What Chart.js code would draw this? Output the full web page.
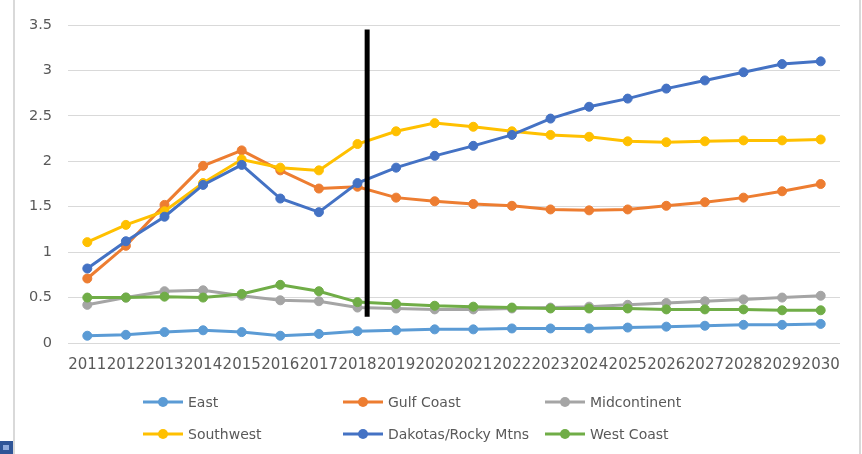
<!DOCTYPE html>
<html>
<head>
<meta charset="utf-8">
<script src="https://cdn.jsdelivr.net/npm/chart.js@4.4.0/dist/chart.umd.min.js"></script>
<style>
  html, body { margin: 0; padding: 0; background: #fff; }
  #wrap { width: 862px; height: 454px; }
</style>
</head>
<body>
<div id="wrap"><canvas id="chart" width="862" height="454"></canvas></div>
<script>
// categories
const years = ["2011","2012","2013","2014","2015","2016","2017","2018","2019","2020",
               "2021","2022","2023","2024","2025","2026","2027","2028","2029","2030"];

// series values
const east         = [0.08,0.09,0.12,0.14,0.12,0.08,0.10,0.13,0.14,0.15,0.15,0.16,0.16,0.16,0.17,0.18,0.19,0.20,0.20,0.21];
const gulfCoast    = [0.71,1.07,1.52,1.95,2.12,1.90,1.70,1.72,1.60,1.56,1.53,1.51,1.47,1.46,1.47,1.51,1.55,1.60,1.67,1.75];
const midcontinent = [0.42,0.50,0.57,0.58,0.52,0.47,0.46,0.39,0.38,0.37,0.37,0.38,0.39,0.40,0.42,0.44,0.46,0.48,0.50,0.52];
const southwest    = [1.11,1.30,1.45,1.76,2.02,1.93,1.90,2.19,2.33,2.42,2.38,2.33,2.29,2.27,2.22,2.21,2.22,2.23,2.23,2.24];
const dakotas      = [0.82,1.12,1.39,1.74,1.96,1.59,1.44,1.76,1.93,2.06,2.17,2.29,2.47,2.60,2.69,2.80,2.89,2.98,3.07,3.10];
const westCoast    = [0.50,0.50,0.51,0.50,0.54,0.64,0.57,0.45,0.43,0.41,0.40,0.39,0.38,0.38,0.38,0.37,0.37,0.37,0.36,0.36];

const seriesNames = ["East","Gulf Coast","Midcontinent","Southwest","Dakotas/Rocky Mtns","West Coast"];
const seriesData  = [east, gulfCoast, midcontinent, southwest, dakotas, westCoast];
const seriesColors = ["#5B9BD5","#ED7D31","#A5A5A5","#FFC000","#4472C4","#70AD47"];

// y axis ticks
const yMin = 0, yMax = 3.5, yStep = 0.5;

// black divider between 2018 and 2019
const dividerFrom = 7, dividerOffset = 0.25, dividerTop = 3.45, dividerBottom = 0.29;

const FONT = "'DejaVu Sans', sans-serif";
const TEXT = "#595959";

const datasets = seriesNames.map((name, i) => ({
    label: name,
    data: seriesData[i],
    borderColor: seriesColors[i],
    backgroundColor: seriesColors[i],
    pointBackgroundColor: seriesColors[i],
    pointBorderColor: seriesColors[i],
    borderWidth: 3,
    pointRadius: 4.5,
    pointBorderWidth: 1,
    tension: 0,
    order: seriesNames.length - i   // later series on top, like the original
}));

// page frame, white background
const framePlugin = {
    id: "frame",
    beforeDraw(chart) {
        const ctx = chart.ctx;
        ctx.save();
        ctx.fillStyle = "#fff";
        ctx.fillRect(0, 0, chart.width, chart.height);
        ctx.fillStyle = "#d9d9d9";
        ctx.fillRect(13, 0, 2, chart.height);
        ctx.fillRect(859, 0, 2, chart.height);
        ctx.fillStyle = "#2F5597";
        ctx.fillRect(0, 441, 13, 13);
        ctx.fillStyle = "#8FAADC";
        ctx.fillRect(3, 445, 6, 5);
        ctx.restore();
    }
};

// the thick black vertical line
const dividerPlugin = {
    id: "divider",
    afterDatasetsDraw(chart) {
        const x = chart.scales.x, y = chart.scales.y;
        const p0 = x.getPixelForValue(dividerFrom);
        const p1 = x.getPixelForValue(dividerFrom + 1);
        const px = p0 + (p1 - p0) * dividerOffset;
        const ctx = chart.ctx;
        ctx.save();
        ctx.strokeStyle = "#000";
        ctx.lineWidth = 5;
        ctx.beginPath();
        ctx.moveTo(px, y.getPixelForValue(dividerTop));
        ctx.lineTo(px, y.getPixelForValue(dividerBottom));
        ctx.stroke();
        ctx.restore();
    }
};

// Excel-style legend in a 3 column grid
const legendPlugin = {
    id: "gridLegend",
    afterDraw(chart) {
        const ctx = chart.ctx;
        const cols = [143, 343, 545];
        const rows = [402, 434];
        ctx.save();
        ctx.font = "14px " + FONT;
        ctx.textBaseline = "middle";
        chart.data.datasets.forEach((ds, i) => {
            const x = cols[i % 3], y = rows[Math.floor(i / 3)];
            ctx.strokeStyle = ds.borderColor;
            ctx.lineWidth = 3;
            ctx.beginPath();
            ctx.moveTo(x, y);
            ctx.lineTo(x + 40, y);
            ctx.stroke();
            ctx.fillStyle = ds.borderColor;
            ctx.beginPath();
            ctx.arc(x + 20, y, 5, 0, Math.PI * 2);
            ctx.fill();
            ctx.fillStyle = TEXT;
            ctx.fillText(ds.label, x + 45, y + 1);
        });
        ctx.restore();
    }
};

new Chart(document.getElementById("chart"), {
    type: "line",
    data: { labels: years, datasets: datasets },
    options: {
        responsive: false,
        devicePixelRatio: 1,
        animation: false,
        layout: { padding: { left: 0, top: 25, right: 22, bottom: 71 } },
        plugins: {
            legend: { display: false },
            tooltip: { enabled: false }
        },
        scales: {
            x: {
                offset: true,
                grid: { display: false, drawTicks: false },
                border: { display: false },
                ticks: {
                    autoSkip: false, maxRotation: 0, minRotation: 0,
                    padding: 13,
                    color: TEXT,
                    font: { family: FONT, size: 15 }
                },
                afterFit(scale) { scale.height = 40; }
            },
            y: {
                min: yMin, max: yMax,
                grid: { color: "#d9d9d9", lineWidth: 1, drawTicks: false },
                border: { display: false },
                ticks: {
                    stepSize: yStep,
                    padding: 16,
                    color: TEXT,
                    font: { family: FONT, size: 14.5 },
                    callback: v => String(v)
                },
                afterFit(scale) { scale.width = 68; }
            }
        }
    },
    plugins: [framePlugin, dividerPlugin, legendPlugin]
});
</script>
</body>
</html>
